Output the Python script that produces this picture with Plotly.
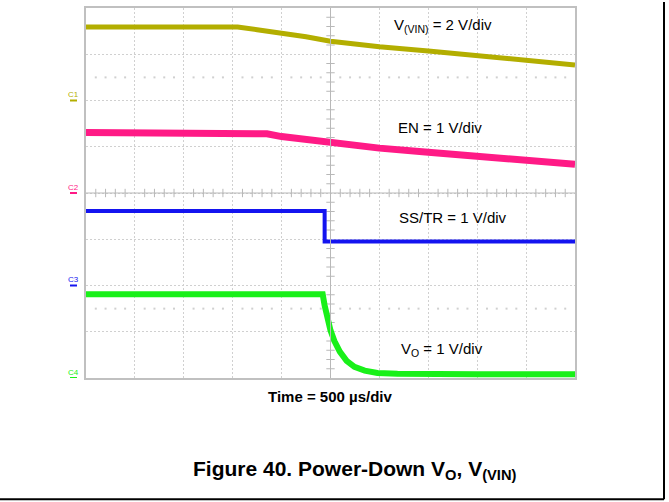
import plotly.graph_objects as go

# ---- data (x in time divisions, y in screen divisions) ----
vin_x = [0.0, 3.1, 3.5, 4.0, 4.5, 5.0, 6.0, 7.0, 8.0, 9.0, 10.0]
vin_y = [7.59, 7.59, 7.53, 7.46, 7.38, 7.28, 7.16, 7.07, 6.97, 6.87, 6.77]

en_x = [0.0, 3.4, 3.7, 4.0, 4.5, 5.0, 6.0, 7.0, 8.0, 9.0, 10.0]
en_y = [5.31, 5.31, 5.28, 5.22, 5.16, 5.08, 4.97, 4.88, 4.80, 4.71, 4.62]

ss_x = [0.0, 4.88, 4.88, 10.0]
ss_y = [3.61, 3.61, 2.95, 2.95]

vo_x = [0.0, 4.84, 4.88, 4.94, 5.0, 5.08, 5.19, 5.33, 5.49, 5.70, 5.96, 6.37, 7.0, 8.0, 10.0]
vo_y = [1.81, 1.81, 1.57, 1.26, 1.03, 0.80, 0.57, 0.37, 0.24, 0.16, 0.11, 0.09, 0.08, 0.08, 0.08]

channel_names = ["C1", "C2", "C3", "C4"]
channel_ground = [6, 4, 2, 0]
channel_colors = ["#b3ae00", "#ff1a86", "#1414f0", "#19f019"]

labels = ["V<sub>(VIN)</sub> = 2 V/div", "EN = 1 V/div", "SS/TR = 1 V/div", "V<sub>O</sub> = 1 V/div"]
time_label = "Time = 500 µs/div"
title_text = "Figure 40. Power-Down V<sub>O</sub>, V<sub>(VIN)</sub>"

# ---- figure ----
W, H = 669, 502
L, R, T, B = 86, 575, 6, 378
FONT = "Liberation Sans, Arial, sans-serif"
GRID = "#d0d0d0"

fig = go.Figure()

minor = [k / 5 for k in range(51) if k % 5 != 0]
minor_y = [k / 5 for k in range(41) if k % 5 != 0]

# center-line ticks
fig.add_trace(go.Scatter(x=minor, y=[4] * len(minor), mode="markers",
                         marker=dict(symbol="line-ns", size=6, line=dict(color="#b8b8b8", width=1)),
                         hoverinfo="skip", showlegend=False))
fig.add_trace(go.Scatter(x=[5] * len(minor_y), y=minor_y, mode="markers",
                         marker=dict(symbol="line-ew", size=6, line=dict(color="#b8b8b8", width=1)),
                         hoverinfo="skip", showlegend=False))
# dotted rows
for yy in [6.5, 1.5]:
    fig.add_trace(go.Scatter(x=minor, y=[yy] * len(minor), mode="markers",
                             marker=dict(symbol="square", size=2, color="#d0d0d0"),
                             hoverinfo="skip", showlegend=False))

# signal traces
fig.add_trace(go.Scatter(x=vin_x, y=vin_y, mode="lines", line=dict(color=channel_colors[0], width=5),
                         showlegend=False))
fig.add_trace(go.Scatter(x=en_x, y=en_y, mode="lines", line=dict(color=channel_colors[1], width=7),
                         showlegend=False))
fig.add_trace(go.Scatter(x=ss_x, y=ss_y, mode="lines", line=dict(color=channel_colors[2], width=4),
                         showlegend=False))
fig.add_trace(go.Scatter(x=vo_x, y=vo_y, mode="lines", line=dict(color=channel_colors[3], width=6),
                         showlegend=False))

# trigger markers
fig.add_trace(go.Scatter(x=[10.06], y=[1.05], mode="markers", cliponaxis=False,
                         marker=dict(symbol="triangle-left", size=6, color=channel_colors[3]),
                         showlegend=False))
fig.add_trace(go.Scatter(x=[5], y=[-0.02], mode="markers", cliponaxis=False,
                         marker=dict(symbol="triangle-up", size=6, color=channel_colors[3]),
                         showlegend=False))

shapes = []
# center lines
shapes.append(dict(type="line", xref="x", yref="y", x0=0, x1=10, y0=4, y1=4,
                   line=dict(color="#b8b8b8", width=1)))
shapes.append(dict(type="line", xref="x", yref="y", x0=5, x1=5, y0=0, y1=8,
                   line=dict(color="#b8b8b8", width=1)))
# channel ground markers
for g, c in zip(channel_ground, channel_colors):
    shapes.append(dict(type="line", xref="paper", yref="y", x0=-16 / 489, x1=-9 / 489, y0=g, y1=g,
                       line=dict(color=c, width=2)))
# page borders
shapes.append(dict(type="line", xref="paper", yref="paper",
                   x0=(664 - L) / (R - L), x1=(664 - L) / (R - L),
                   y0=(B - 0) / (B - T), y1=(B - 500) / (B - T),
                   line=dict(color="black", width=2)))
shapes.append(dict(type="line", xref="paper", yref="paper",
                   x0=(0 - L) / (R - L), x1=(664 - L) / (R - L),
                   y0=(B - 500) / (B - T), y1=(B - 500) / (B - T),
                   line=dict(color="black", width=2)))

annotations = []
for name, g, c in zip(channel_names, channel_ground, channel_colors):
    annotations.append(dict(text=name, xref="paper", yref="y", x=-12.5 / 489, y=g,
                            yshift=6, showarrow=False, font=dict(family=FONT, size=8, color=c),
                            xanchor="center", yanchor="middle"))

label_pos = [(443, 24), (440, 126), (453, 217), (442, 349)]
for txt, (px, py) in zip(labels, label_pos):
    annotations.append(dict(text=txt, xref="paper", yref="paper",
                            x=(px - L) / (R - L), y=(B - py) / (B - T),
                            showarrow=False, font=dict(family=FONT, size=15, color="black"),
                            xanchor="center", yanchor="middle"))

annotations.append(dict(text="<b>" + time_label + "</b>", xref="paper", yref="paper",
                        x=(330 - L) / (R - L), y=(B - 397) / (B - T), showarrow=False,
                        font=dict(family=FONT, size=15, color="black"),
                        xanchor="center", yanchor="middle"))
annotations.append(dict(text="<b>" + title_text + "</b>", xref="paper", yref="paper",
                        x=(355 - L) / (R - L), y=(B - 470) / (B - T), showarrow=False,
                        font=dict(family=FONT, size=21, color="black"),
                        xanchor="center", yanchor="middle"))

axis_common = dict(showgrid=True, gridcolor=GRID, griddash="2px,2px", gridwidth=1,
                   showline=True, linecolor="#c0c0c0", linewidth=2, mirror=True,
                   showticklabels=False, ticks="", zeroline=False, dtick=1, fixedrange=True)

fig.update_layout(
    width=W, height=H,
    margin=dict(l=L, r=W - R, t=T, b=H - B),
    paper_bgcolor="white", plot_bgcolor="white",
    xaxis=dict(range=[0, 10], **axis_common),
    yaxis=dict(range=[0, 8], **axis_common),
    shapes=shapes, annotations=annotations,
    showlegend=False,
)

fig.write_html("out.html", config={"displayModeBar": False},
               post_script="document.body.style.margin='0';document.body.style.overflow='hidden';")
